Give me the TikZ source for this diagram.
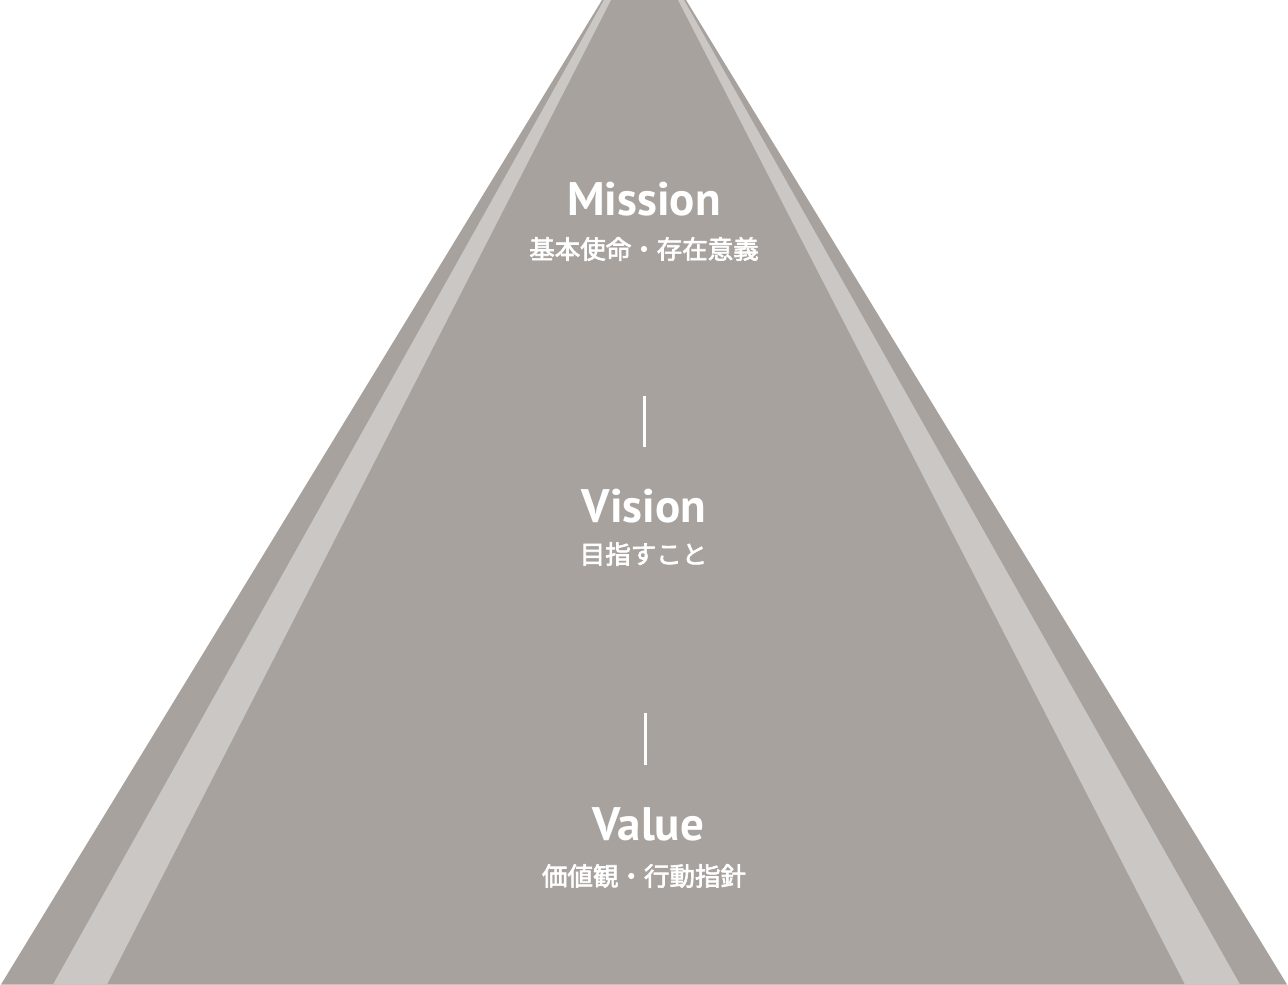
\documentclass[tikz,border=0pt]{standalone}
\usepackage{fontspec}
\setmainfont{PT Sans}
\newfontfamily\cjk[FakeBold=2.5]{Noto Sans CJK JP}
\definecolor{roadgray}{RGB}{167,162,158}
\definecolor{stripegray}{RGB}{203,199,196}
\begin{document}
\begin{tikzpicture}[x=1pt,y=-1pt,
  title/.style={text=white,font=\fontsize{47}{47}\selectfont\bfseries,anchor=base,inner sep=0pt},
  sub/.style={text=white,font=\cjk\fontsize{25.5}{26}\selectfont,anchor=center,inner sep=0pt},
  bar/.style={draw=white,line width=3pt}]
\useasboundingbox (0,0) rectangle (1288,985);
% road
\fill[roadgray] (602,0) -- (686,0) -- (1287,984.5) -- (1,984.5) -- cycle;
\fill[stripegray] (604,0) -- (611,0) -- (107,984.5) -- (53,984.5) -- cycle;
\fill[stripegray] (678,0) -- (684,0) -- (1240,984.5) -- (1185,984.5) -- cycle;
% texts
\node[title] (mission) at (644,215) {Mission};
\node[sub] (missionjp) at (644,249) {基本使命・存在意義};
\coordinate (b1t) at (644,396);
\coordinate (b1b) at (644,447);
\draw[bar] (b1t) -- (b1b);
\node[title] (vision) at (644,522) {Vision};
\node[sub] (visionjp) at (643.5,554) {目指すこと};
\coordinate (b2t) at (645,713);
\coordinate (b2b) at (645,765);
\draw[bar] (b2t) -- (b2b);
\node[title] (value) at (648,840) {Value};
\node[sub] (valuejp) at (644,876) {価値観・行動指針};
\end{tikzpicture}
\end{document}
